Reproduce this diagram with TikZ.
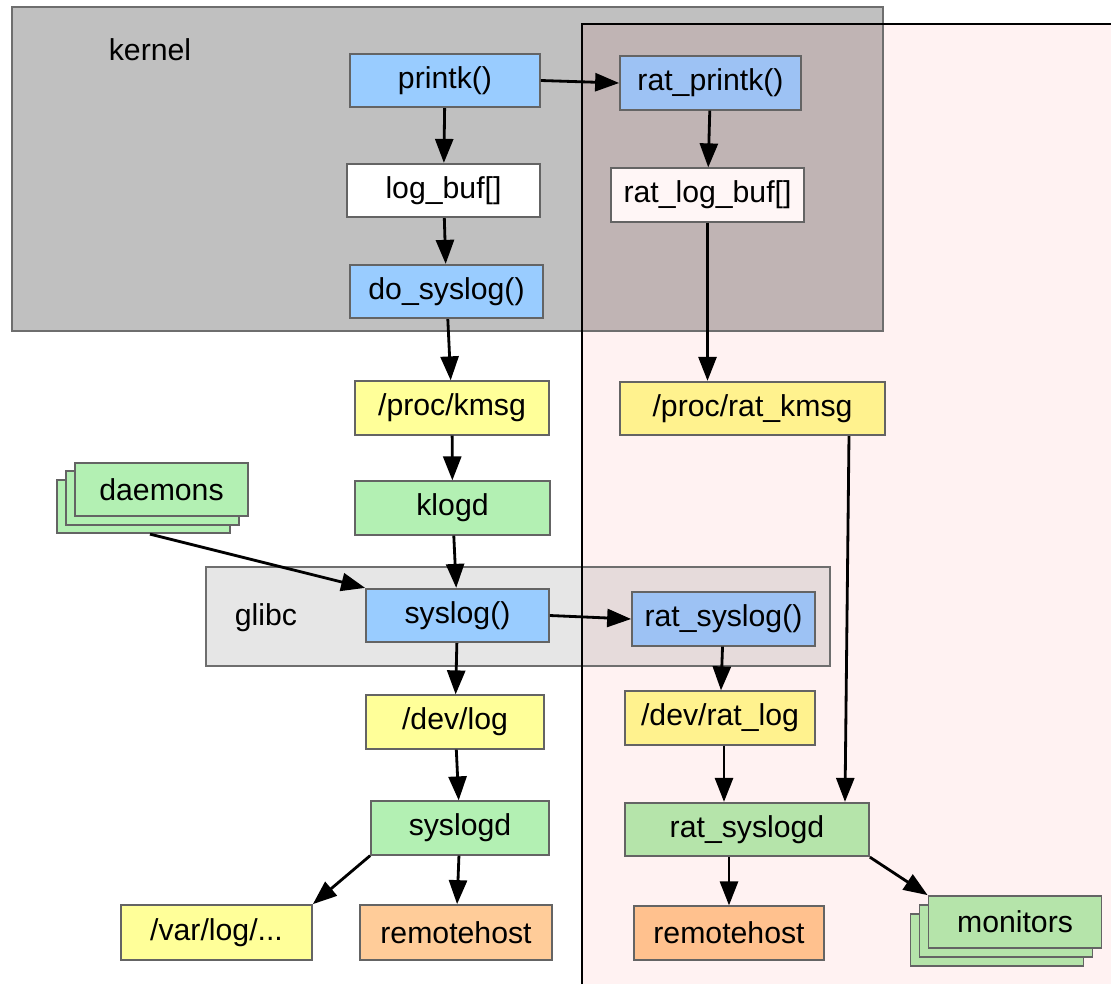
\documentclass[tikz,border=0pt]{standalone}
\usepackage{fontspec}
\setmainfont{Liberation Sans}
\usepackage{tikz}
\usetikzlibrary{arrows.meta}
\definecolor{kernelgray}{RGB}{192,192,192}
\definecolor{kernelpink}{RGB}{192,180,180}
\definecolor{glibcgray}{RGB}{230,230,230}
\definecolor{glibcpink}{RGB}{230,219,219}
\definecolor{ratpink}{RGB}{255,242,242}
\definecolor{frameline}{RGB}{110,110,110}
\definecolor{boxline}{RGB}{100,100,100}
\definecolor{fnblue}{RGB}{153,204,255}
\definecolor{ratblue}{RGB}{157,194,244}
\definecolor{fileyellow}{RGB}{255,255,153}
\definecolor{ratyellow}{RGB}{255,242,142}
\definecolor{procgreen}{RGB}{179,240,179}
\definecolor{ratgreen}{RGB}{181,228,170}
\definecolor{hostorange}{RGB}{255,204,153}
\definecolor{ratorange}{RGB}{255,193,142}
\definecolor{ratwhite}{RGB}{255,246,246}

\begin{document}
\begin{tikzpicture}[x=0.02cm,y=-0.02cm,
  blk/.style={draw=boxline, line width=1pt, rectangle, minimum height=1.07cm, inner sep=0pt, font=\fontsize{17.2}{20}\selectfont},
  lbl/.style={font=\fontsize{17.2}{20}\selectfont},
  flow/.style={-{Triangle[length=0.48cm,width=0.36cm]}, line width=1.6pt, black}]
\useasboundingbox (0,0) rectangle (1111,984);
% areas
\fill[ratpink] (582,24) rectangle (1111,984);
\fill[kernelgray] (12,7) rectangle (883,331);
\fill[kernelpink] (582,24) rectangle (883,331);
\fill[glibcgray] (206,567) rectangle (830,666);
\fill[glibcpink] (582,567) rectangle (830,666);
\draw[frameline, line width=1.1pt] (12,7) rectangle (883,331);
\draw[frameline, line width=1.1pt] (206,567) rectangle (830,666);
\draw[black, line width=1.5pt] (582,984) -- (582,24) -- (1111,24);
\node[lbl] (kernel) at (150,50) {kernel};
\node[lbl] (glibc) at (266,618) {glibc};
% kernel side
\node[blk, fill=fnblue, minimum width=3.8cm] (printk) at (445,80.5) {printk()};
\node[blk, fill=white, minimum width=3.86cm] (logbuf) at (443.5,190.5) {log\_buf[]};
\node[blk, fill=fnblue, minimum width=3.86cm] (dosyslog) at (446.5,291.5) {do\_syslog()};
\node[blk, fill=ratblue, minimum width=3.62cm] (ratprintk) at (710.5,83) {rat\_printk()};
\node[blk, fill=ratwhite, minimum width=3.86cm] (ratlogbuf) at (707.5,195) {rat\_log\_buf[]};
% user side
\node[blk, fill=fileyellow, minimum width=3.88cm] (kmsg) at (452,408) {/proc/kmsg};
\node[blk, fill=ratyellow, minimum width=5.3cm] (ratkmsg) at (752.5,408.5) {/proc/rat\_kmsg};
\node[blk, fill=procgreen, minimum width=3.9cm] (klogd) at (452.5,508) {klogd};
\node[blk, fill=procgreen, minimum width=3.46cm] (daemons3) at (143.5,506.5) {};
\node[blk, fill=procgreen, minimum width=3.46cm] (daemons2) at (152.5,498) {};
\node[blk, fill=procgreen, minimum width=3.46cm] (daemons) at (161.5,489.5) {daemons};
\node[blk, fill=fnblue, minimum width=3.66cm] (syslog) at (457.5,615.5) {syslog()};
\node[blk, fill=ratblue, minimum width=3.66cm] (ratsyslog) at (723.5,619) {rat\_syslog()};
\node[blk, fill=fileyellow, minimum width=3.56cm] (devlog) at (455,722) {/dev/log};
\node[blk, fill=ratyellow, minimum width=3.8cm] (devratlog) at (720,718) {/dev/rat\_log};
\node[blk, fill=procgreen, minimum width=3.56cm] (syslogd) at (460,828) {syslogd};
\node[blk, fill=ratgreen, minimum width=4.88cm] (ratsyslogd) at (747,829.5) {rat\_syslogd};
\node[blk, fill=fileyellow, minimum width=3.82cm, minimum height=1.1cm] (varlog) at (216.5,932.5) {/var/log/...};
\node[blk, fill=hostorange, minimum width=3.84cm, minimum height=1.1cm] (remote) at (456,932.5) {remotehost};
\node[blk, fill=ratorange, minimum width=3.8cm] (ratremote) at (729,933) {remotehost};
\node[blk, fill=ratgreen, minimum width=3.46cm, minimum height=1.04cm] (monitors3) at (997,940) {};
\node[blk, fill=ratgreen, minimum width=3.46cm, minimum height=1.04cm] (monitors2) at (1006,931) {};
\node[blk, fill=ratgreen, minimum width=3.46cm, minimum height=1.04cm] (monitors) at (1015,922) {monitors};
% connectors
\draw[flow] (printk.east) -- (ratprintk.west);
\draw[flow] (printk) -- (logbuf);
\draw[flow] (logbuf) -- (dosyslog);
\draw[flow] (ratprintk) -- (ratlogbuf);
\draw[flow] (ratlogbuf.south) -- (ratlogbuf.south |- ratkmsg.north);
\draw[flow] (dosyslog) -- (kmsg);
\draw[flow] (kmsg) -- (klogd);
\draw[flow] (klogd) -- (syslog);
\draw[flow] ([xshift=0.13cm]daemons3.south) -- (syslog.north west);
\draw[flow] (syslog.east) -- (ratsyslog.west);
\draw[flow] (syslog) -- (devlog);
\draw[flow] (ratsyslog) -- (devratlog);
\draw[flow] ([xshift=1.93cm]ratkmsg.south) -- ([xshift=1.96cm]ratsyslogd.north);
\draw[flow] (devlog) -- (syslogd);
\draw[flow] ([xshift=0.08cm]devratlog.south) -- ([xshift=0.08cm]devratlog.south |- ratsyslogd.north);
\draw[flow] (syslogd.south west) -- (varlog.north east);
\draw[flow] (syslogd) -- (remote);
\draw[flow] (ratremote.north |- ratsyslogd.south) -- (ratremote.north);
\draw[flow] (ratsyslogd.south east) -- (monitors.north west);
\end{tikzpicture}
\end{document}
